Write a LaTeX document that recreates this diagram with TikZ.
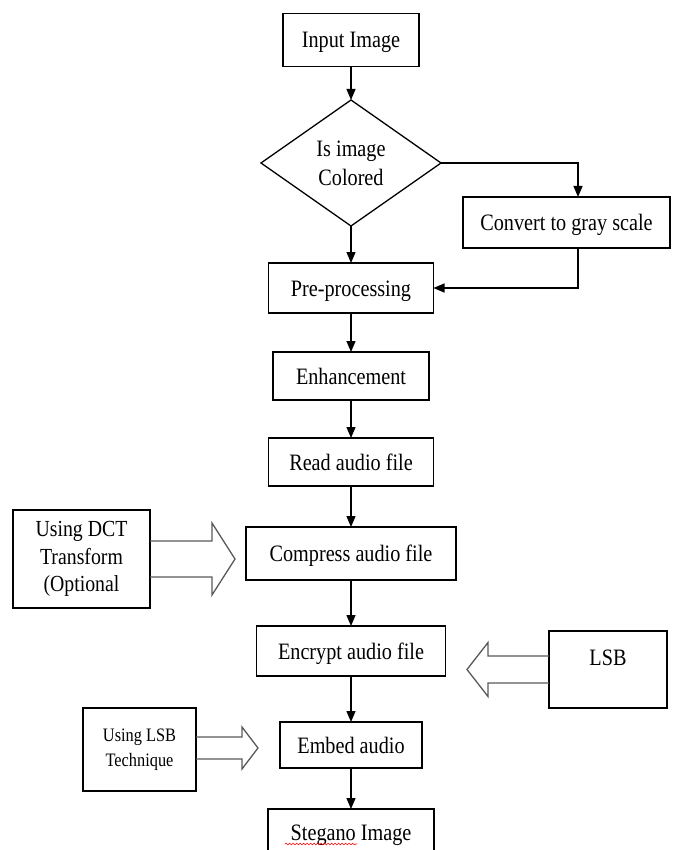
\documentclass[tikz,border=0pt]{standalone}
\usepackage{fontspec}
\setmainfont{Liberation Serif}[FakeStretch=0.86]
\usetikzlibrary{shapes.geometric,positioning,arrows.meta,decorations.pathmorphing}
\tikzset{
  >={Triangle[length=11pt,width=9pt]},
  flowline/.style={->,line width=1.3pt},
  rectnode/.style args={#1,#2}{
  draw=black,
  line width=1.3pt,
  inner sep=0pt,
  outer sep=0pt,
  minimum width=#1pt,
  minimum height=#2pt,
  font=\fontsize{23.5}{28}\selectfont
  },
  oneline/.style={text height=16pt,text depth=0pt},
  decision/.style={diamond,draw=black,line width=1.3pt,inner sep=0pt,outer sep=0pt,
    minimum width=180pt,minimum height=126pt,align=center,
    font=\fontsize{23.5}{29}\selectfont},
  hollow/.style={draw=black!65,line width=1.3pt},
  squiggle/.style={red,line width=0.6pt,decorate,
    decoration={snake,amplitude=0.9pt,segment length=3.5pt}}
}

\begin{document}
\begin{tikzpicture}[x=1pt,y=-1pt]
  \useasboundingbox (0,0) rectangle (672,850);
  \clip (0,0) rectangle (672,850);

  % main column
  \node [rectnode={136,53},oneline] (inp) at (351,40) {Input Image};
  \node [decision,below=33.5pt of inp] (dia) {Is image\\Colored};
  \node [rectnode={165,50},oneline,below=37pt of dia] (pre) {Pre-processing};
  \node [rectnode={156,48},oneline,below=39pt of pre] (enh) {Enhancement};
  \node [rectnode={165,48},oneline,below=38pt of enh] (read) {Read audio file};
  \node [rectnode={210,53},oneline,below=41pt of read] (comp) {Compress audio file};
  \node [rectnode={189,50},oneline,below=46pt of comp] (enc) {Encrypt audio file};
  \node [rectnode={142,46},oneline,below=46pt of enc] (emb) {Embed audio};
  \node [rectnode={166,46},oneline,below=41pt of emb] (steg) {Stegano Image};

  % side boxes
  \node [rectnode={207,51},oneline] (gray) at (566.5,222.5) {Convert to gray scale};
  \node [rectnode={137,98},align=center,font=\fontsize{23}{27.5}\selectfont] (dct) at (81.5,559) {Using DCT\\Transform\\(Optional};
  \node [rectnode={118,77},text height=16pt,text depth=25pt] (lsb) at (608,669.5) {LSB};
  \node [rectnode={113,83},align=center,font=\fontsize{19}{25}\selectfont] (tech) at (139.5,749.5) {Using LSB\\Technique};

  \draw [flowline] (inp.south) -- (dia.north);
  \draw [flowline] (dia.south) -- (pre.north);
  \draw [flowline] (dia.east) -| ([xshift=11.5pt]gray.north);
  \draw [flowline] ([xshift=11.5pt]gray.south) |- (pre.east);
  \draw [flowline] (pre.south) -- (enh.north);
  \draw [flowline] (enh.south) -- (read.north);
  \draw [flowline] (read.south) -- (comp.north);
  \draw [flowline] (comp.south) -- (enc.north);
  \draw [flowline] (enc.south) -- (emb.north);
  \draw [flowline] (emb.south) -- (steg.north);

  % block arrows
  \draw [hollow] ([yshift=18pt]dct.east) -- ++(62,0) -- ++(0,-18) -- ++(23,36) -- ++(-23,36) -- ++(0,-18) -- ++(-62,0);
  \draw [hollow] ([yshift=13.5pt]lsb.west) -- ++(-61,0) -- ++(0,-13.5) -- ++(-21,27) -- ++(21,27) -- ++(0,-13.5) -- ++(61,0);
  \draw [hollow] ([yshift=12.5pt]tech.east) -- ++(46,0) -- ++(0,-10) -- ++(16,21) -- ++(-16,21) -- ++(0,-10) -- ++(-46,0);

  \draw [squiggle] (285,844) -- (357,844);
\end{tikzpicture}
\end{document}
